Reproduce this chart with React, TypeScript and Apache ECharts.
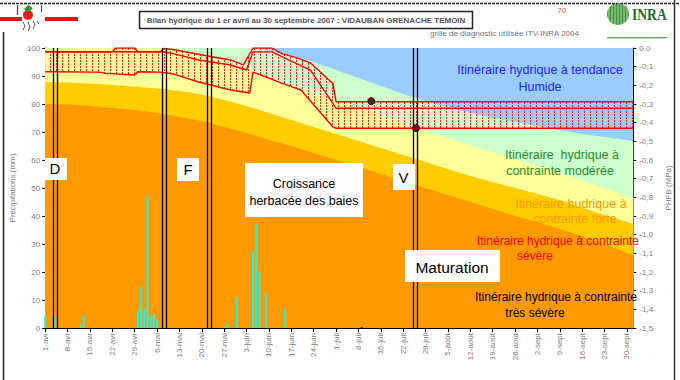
import React, { useEffect, useRef } from 'react';
import * as echarts from 'echarts';

// ---- X axis (days since 1 April) ----
const tickLabels = ['1-avr', '8-avr', '15-avr', '22-avr', '29-avr', '6-mai', '13-mai', '20-mai', '27-mai', '3-juin', '10-juin', '17-juin', '24-juin', '1-juil', '8-juil', '15-juil', '22-juil', '29-juil', '5-août', '12-août', '19-août', '26-août', '2-sept', '9-sept', '16-sept', '23-sept', '30-sept'];
const tickDays = tickLabels.map((_, i) => i * 7);

// ---- Zone limits of the ITV-INRA grid (MPa) ----
const zoneDays = [0, 7, 14, 21, 28, 35, 42, 49, 56, 63, 70, 77, 84, 91, 98, 105, 112, 119, 126, 133, 140, 147, 154, 161, 168, 175, 182, 184];
const humideLimit = [0, 0, 0, 0, 0, 0, 0, 0, 0, 0, -0.012, -0.04, -0.075, -0.118, -0.161, -0.204, -0.247, -0.284, -0.316, -0.348, -0.375, -0.396, -0.418, -0.439, -0.461, -0.477, -0.493, -0.5];
const moderateLimit = [0, 0, 0, 0, 0, 0, -0.016, -0.043, -0.075, -0.113, -0.155, -0.198, -0.241, -0.279, -0.316, -0.359, -0.402, -0.445, -0.482, -0.52, -0.557, -0.595, -0.632, -0.67, -0.707, -0.75, -0.793, -0.804];
const forteLimit = [-0.182, -0.185, -0.19, -0.198, -0.206, -0.217, -0.23, -0.249, -0.279, -0.311, -0.348, -0.386, -0.423, -0.461, -0.498, -0.536, -0.573, -0.611, -0.648, -0.686, -0.718, -0.75, -0.782, -0.814, -0.856, -0.895, -0.932, -0.943];
const severeLimit = [-0.3, -0.303, -0.311, -0.321, -0.332, -0.348, -0.37, -0.391, -0.423, -0.455, -0.493, -0.525, -0.563, -0.6, -0.638, -0.675, -0.713, -0.75, -0.788, -0.825, -0.863, -0.9, -0.932, -0.97, -1.007, -1.05, -1.098, -1.109];

// ---- Precipitation (mm) ----
const rainDays = [0, 3, 11, 12, 29, 30, 31, 32, 33, 34, 35, 56, 57, 60, 65, 66, 67, 69, 75, 99];
const rainMm = [4.8, 4.2, 1, 4.5, 6, 14.9, 6.8, 47.3, 4.4, 5, 3, 0.5, 1.4, 11, 27.4, 37.5, 20.2, 12.3, 6.8, 0.4];

// ---- Simulated predawn water potential (MPa): [day, value] ----
const psiMax = [[0, -0.02], [21, -0.02], [22, 0], [28, 0], [29, -0.02], [36, -0.02], [37, -0.003], [40, -0.008], [50, -0.04], [58, -0.064], [62, -0.09], [65, 0], [71, 0], [74, -0.03], [79, -0.054], [83, -0.08], [90, -0.19], [91, -0.288], [184, -0.288]];
const psiMid = [[0, -0.02], [37, -0.02], [40, -0.03], [48, -0.064], [58, -0.091], [63, -0.118], [65, -0.021], [71, -0.021], [75, -0.054], [83, -0.118], [91, -0.323], [184, -0.323]];
const psiMin = [[0, -0.127], [17, -0.129], [19, -0.136], [28, -0.145], [29, -0.127], [36, -0.129], [40, -0.139], [48, -0.182], [58, -0.225], [64, -0.241], [65, -0.129], [69, -0.155], [74, -0.188], [80, -0.225], [90, -0.423], [91, -0.43], [184, -0.43]];

// ---- Measured values (MPa) ----
const measured = [[102, -0.285], [116, -0.43]];

// ---- Phenological stages (double lines, days) ----
const stageDays = [2.4, 3.6, 36.7, 37.9, 50.8, 52, 115.2, 116.4];

const FONT = '"Liberation Sans", Arial, sans-serif';

export default function App() {
  const ref = useRef<HTMLDivElement>(null);

  useEffect(() => {
    const el = ref.current!;
    const chart = echarts.init(el, null, { renderer: 'svg' });

    const cv = document.createElement('canvas');
    cv.width = 6;
    cv.height = 3;
    const ctx = cv.getContext('2d')!;
    ctx.fillStyle = '#ff2020';
    ctx.fillRect(2, 0, 1, 2);
    const hatch: any = { image: cv, repeat: 'repeat', imageWidth: 6, imageHeight: 3 };

    const zone = (name: string, vals: number[], color: string) => ({
      type: 'line',
      name,
      xAxisIndex: 0,
      yAxisIndex: 1,
      data: zoneDays.map((d, i) => [d, vals[i]]),
      symbol: 'none',
      lineStyle: { width: 0, opacity: 0 },
      areaStyle: { color, opacity: 1, origin: 'start' },
      z: 1,
      silent: true,
      clip: true,
    });

    const redLine = (name: string, pts: number[][]) => ({
      type: 'line',
      name,
      xAxisIndex: 0,
      yAxisIndex: 1,
      data: pts,
      symbol: 'none',
      lineStyle: { color: '#ff0000', width: 1.4 },
      z: 3,
      silent: true,
      clip: true,
    });

    const txt = (text: string, x: number, y: number, color: string, size = 12.5, align = 'center') => ({
      type: 'text',
      x,
      y,
      z: 12,
      style: { text, fill: color, fontSize: size, fontFamily: FONT, textAlign: align, textVerticalAlign: 'middle', verticalAlign: 'middle' },
    });
    const box = (x: number, y: number, w: number, h: number) => ({
      type: 'rect',
      z: 10,
      shape: { x, y, width: w, height: h },
      style: { fill: '#ffffff', stroke: 'none' },
    });

    // INRA logo stripes
    const logoCx = 618, logoCy = 14, logoR = 11;
    const stripes: any[] = [];
    for (let dx = -9; dx <= 9; dx += 3) {
      const hh = Math.sqrt(logoR * logoR - dx * dx);
      stripes.push({
        type: 'line', z: 12,
        shape: { x1: logoCx + dx, y1: logoCy - hh, x2: logoCx + dx, y2: logoCy + hh },
        style: { stroke: '#d9efd0', lineWidth: 0.8 },
      });
    }

    const option: any = {
      animation: false,
      backgroundColor: '#ffffff',
      textStyle: { fontFamily: FONT },
      grid: { left: 44, right: 44, top: 48, bottom: 52, show: true, backgroundColor: '#99CCFF', borderWidth: 0 },
      xAxis: {
        type: 'value',
        min: 0,
        max: 184,
        axisLine: { show: true, onZero: false, lineStyle: { color: '#000', width: 1 } },
        axisTick: { show: true, length: 4, lineStyle: { color: '#000' }, customValues: tickDays },
        axisLabel: {
          rotate: 90,
          fontSize: 8,
          color: '#808080',
          margin: 5,
          customValues: tickDays,
          formatter: (v: number) => tickLabels[Math.round(v / 7)] ?? '',
        },
        splitLine: { show: false },
      },
      yAxis: [
        {
          type: 'value',
          position: 'left',
          min: 0,
          max: 100,
          interval: 10,
          name: 'Précipitations (mm)',
          nameLocation: 'middle',
          nameGap: 24,
          nameTextStyle: { fontSize: 8, color: '#808080' },
          axisLine: { show: true, lineStyle: { color: '#000', width: 1 } },
          axisTick: { show: true, length: 3, lineStyle: { color: '#000' } },
          axisLabel: { fontSize: 8, color: '#808080', margin: 5 },
          splitLine: { show: false },
        },
        {
          type: 'value',
          position: 'right',
          min: -1.5,
          max: 0,
          interval: 0.1,
          name: 'PHFB (MPa)',
          nameLocation: 'middle',
          nameGap: 24,
          nameTextStyle: { fontSize: 8, color: '#808080' },
          axisLine: { show: true, lineStyle: { color: '#000', width: 1 } },
          axisTick: { show: true, length: 3, lineStyle: { color: '#000' } },
          axisLabel: {
            fontSize: 8,
            color: '#808080',
            margin: 6,
            formatter: (v: number) => (Math.round(v * 10) / 10).toFixed(1).replace('.', ','),
          },
          splitLine: { show: false },
        },
      ],
      series: [
        zone('modérée', humideLimit, '#CCFFCC'),
        zone('forte', moderateLimit, '#FFFF99'),
        zone('sévère', forteLimit, '#FFCC00'),
        zone('très sévère', severeLimit, '#FF9900'),
        {
          type: 'custom',
          name: 'plage',
          xAxisIndex: 0,
          yAxisIndex: 1,
          data: [[0, 0]],
          z: 2,
          silent: true,
          clip: true,
          renderItem: (_p: any, api: any) => {
            const pts = psiMax.map((p) => api.coord(p)).concat(psiMin.slice().reverse().map((p) => api.coord(p)));
            return { type: 'polygon', shape: { points: pts }, style: { fill: hatch, stroke: 'none' } };
          },
        },
        redLine('max', psiMax),
        redLine('moy', psiMid),
        redLine('min', psiMin),
        {
          type: 'bar',
          name: 'Pluie',
          xAxisIndex: 0,
          yAxisIndex: 0,
          data: rainDays.map((d, i) => (d === 99 ? { value: [d, rainMm[i]], itemStyle: { color: '#2233aa' } } : [d, rainMm[i]])),
          barWidth: 2,
          itemStyle: { color: '#1AF2EE' },
          z: 4,
          silent: true,
          markLine: {
            silent: true,
            symbol: ['none', 'none'],
            label: { show: false },
            lineStyle: { color: '#000', width: 1.3, type: 'solid' },
            data: stageDays.map((d) => ({ xAxis: d })),
          },
        },
        {
          type: 'scatter',
          name: 'Mesures',
          xAxisIndex: 0,
          yAxisIndex: 1,
          data: measured,
          symbolSize: 7,
          itemStyle: { color: '#6a0f0f', borderColor: '#000', borderWidth: 1, opacity: 1 },
          z: 6,
          silent: true,
        },
      ],
      graphic: [
        // frame
        { type: 'line', z: 12, shape: { x1: 0, y1: 3.5, x2: 680, y2: 3.5 }, style: { stroke: '#222', lineWidth: 1.5, lineDash: [3, 1] } },
        { type: 'line', z: 12, shape: { x1: 3.5, y1: 32, x2: 3.5, y2: 380 }, style: { stroke: '#222', lineWidth: 1.5 } },
        { type: 'line', z: 12, shape: { x1: 674.5, y1: 0, x2: 674.5, y2: 380 }, style: { stroke: '#333', lineWidth: 1.5 } },
        // top-left logo
        { type: 'rect', z: 12, shape: { x: 0, y: 17, width: 22, height: 4 }, style: { fill: '#ee1111' } },
        { type: 'rect', z: 12, shape: { x: 45, y: 17, width: 33, height: 4 }, style: { fill: '#ee1111' } },
        { type: 'line', z: 12, shape: { x1: 17.5, y1: 5, x2: 17.5, y2: 15 }, style: { stroke: '#2244aa', lineWidth: 1.2 } },
        { type: 'line', z: 12, shape: { x1: 41.5, y1: 5, x2: 41.5, y2: 12 }, style: { stroke: '#2244aa', lineWidth: 1 } },
        { type: 'circle', z: 12, shape: { cx: 28, cy: 15, r: 5 }, style: { fill: '#dd2222' } },
        { type: 'polygon', z: 13, shape: { points: [[24, 9], [28, 5], [33, 8], [30, 11], [26, 11]] }, style: { fill: '#2a9a2a' } },
        { type: 'polyline', z: 12, shape: { points: [[23, 22], [25, 26], [23, 30]] }, style: { stroke: '#555', lineWidth: 1, fill: 'none' } },
        { type: 'polyline', z: 12, shape: { points: [[28, 22], [30, 27], [28, 31]] }, style: { stroke: '#555', lineWidth: 1, fill: 'none' } },
        { type: 'polyline', z: 12, shape: { points: [[33, 21], [35, 25], [33, 29]] }, style: { stroke: '#555', lineWidth: 1, fill: 'none' } },
        { type: 'polyline', z: 12, shape: { points: [[37, 21], [39, 24]] }, style: { stroke: '#555', lineWidth: 1, fill: 'none' } },
        // title
        { type: 'rect', z: 12, shape: { x: 139.5, y: 11.5, width: 333, height: 17 }, style: { fill: '#fff', stroke: '#222', lineWidth: 1.5 } },
        {
          type: 'text', x: 306, y: 20.5, z: 13,
          style: { text: 'Bilan hydrique du 1 er avril au 30 septembre 2007 : VIDAUBAN GRENACHE TEMOIN', fill: '#555555', fontSize: 8, fontWeight: 'bold', fontFamily: FONT, textAlign: 'center', verticalAlign: 'middle', textVerticalAlign: 'middle' },
        },
        txt('70', 562, 10, '#ff4444', 8),
        txt('grille de diagnostic utilisée ITV-INRA 2004', 430, 33.5, '#777777', 8, 'left'),
        // INRA logo
        { type: 'circle', z: 11, shape: { cx: logoCx, cy: logoCy, r: logoR }, style: { fill: '#3f923a' } },
        ...stripes,
        {
          type: 'text', x: 632, y: 14, z: 12, scaleX: 0.8,
          style: { text: 'INRA', fill: '#1d6b2c', fontSize: 17, fontWeight: 'bold', fontFamily: '"Liberation Serif", serif', textAlign: 'left', verticalAlign: 'middle', textVerticalAlign: 'middle' },
        },
        { type: 'rect', z: 12, shape: { x: 607, y: 37, width: 60, height: 1.5 }, style: { fill: '#6aaa6a' } },
        // stage boxes
        box(45, 158, 22, 22),
        txt('D', 55, 168.5, '#000', 15),
        box(177, 158, 22, 23),
        txt('F', 188, 169, '#000', 15),
        box(245, 163, 118, 54),
        txt('Croissance', 304, 184, '#000', 12.5),
        txt('herbacée des baies', 304, 201, '#000', 12.5),
        box(393, 164, 22, 26),
        txt('V', 403.5, 177, '#000', 15),
        box(405, 250, 95, 32),
        txt('Maturation', 452, 267, '#000', 15.5),
        // zone annotations
        txt('Itinéraire hydrique à tendance', 540, 70, '#1f1fff'),
        txt('Humide', 540, 87, '#1f1fff'),
        txt('Itinéraire  hydrique à', 562, 155, '#2e8b2e'),
        txt('contrainte modérée', 560, 171, '#2e8b2e'),
        txt('Itinéraire hudrique à', 571, 204, '#ff9900'),
        txt('contrainte forte', 575, 219, '#ff9900'),
        txt('Itinéraire hydrique à contrainte', 558, 241, '#ff0000', 12),
        txt('sévère', 535, 256, '#ff0000', 12),
        txt('Itinéraire hydrique à contrainte', 556, 297, '#000000', 12),
        txt('très sévère', 535, 313, '#000000', 12),
      ],
    };

    chart.setOption(option);
    return () => chart.dispose();
  }, []);

  return <div ref={ref} style={{ position: 'absolute', left: 0, top: 0, width: 680, height: 380, background: '#fff' }} />;
}
